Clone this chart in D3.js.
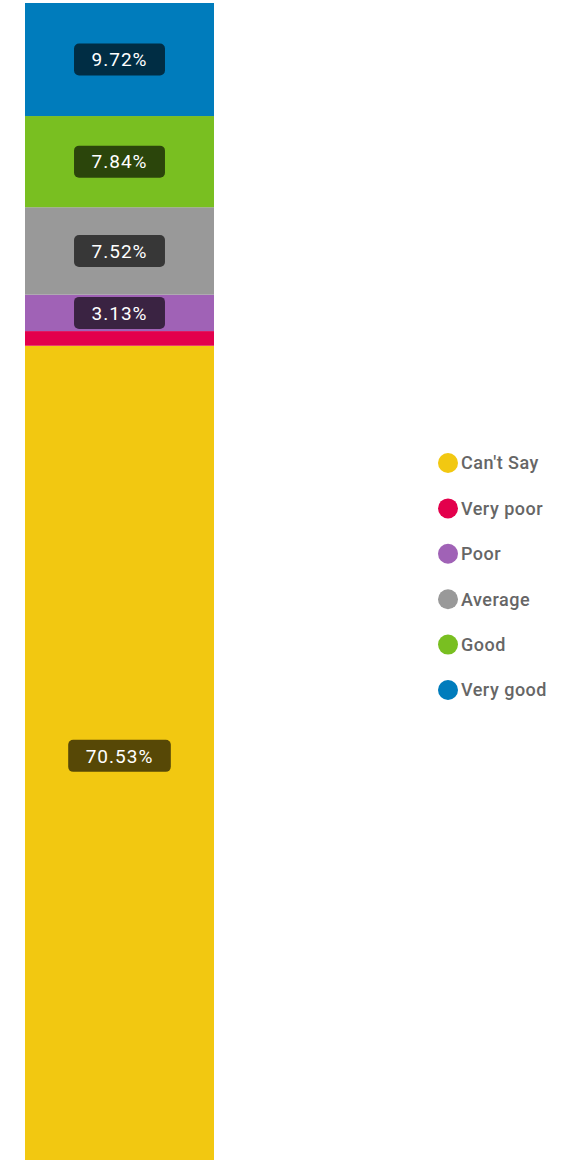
<!DOCTYPE html>
<html>
<head>
<meta charset="utf-8">
<script src="https://cdn.jsdelivr.net/npm/d3@7"></script>
<style>
  body { margin: 0; background: #fff; overflow: hidden; }
  svg { display: block; }
</style>
</head>
<body>
<div id="chart"></div>
<script>
// categories bottom -> top
var categories = ["Can't Say", "Very poor", "Poor", "Average", "Good", "Very good"];
var shares = [70.53, 1.26, 3.13, 7.52, 7.84, 9.72];
var colors = ["#F2C811", "#E3004C", "#A062B6", "#999999", "#79BF21", "#007CBC"];
// legend order top -> bottom
var legendItems = ["Can't Say", "Very poor", "Poor", "Average", "Good", "Very good"];

var W = 568, H = 1160;
// the bar runs a little past the bottom of the window and gets cut off
var bar = { left: 25, right: 214, top: 3, bottom: 1166 };

var svg = d3.select("#chart").append("svg")
  .attr("width", W).attr("height", H);

var color = d3.scaleOrdinal(categories, colors);

// stack the values
var row = {};
categories.forEach(function (c, i) { row[c] = shares[i]; });
var series = d3.stack().keys(categories)([row]);

var y = d3.scaleLinear()
  .domain([0, d3.sum(shares)])
  .range([bar.bottom, bar.top]);

var x = d3.scaleBand().domain(["all"]).range([bar.left, bar.right]).padding(0);

svg.selectAll("rect.seg")
  .data(series)
  .enter()
  .append("rect")
  .attr("class", "seg")
  .attr("x", x("all"))
  .attr("width", x.bandwidth())
  .attr("y", d => y(d[0][1]))
  .attr("height", d => y(d[0][0]) - y(d[0][1]))
  .attr("fill", d => color(d.key));

// data labels (skip the tiny slice)
var labels = svg.selectAll("g.lbl")
  .data(series.filter(d => d[0][1] - d[0][0] > 2))
  .enter()
  .append("g")
  .attr("class", "lbl")
  .attr("transform", d => "translate(" + (x("all") + x.bandwidth() / 2) + "," + ((y(d[0][0]) + y(d[0][1])) / 2) + ")");

labels.each(function (d) {
  var g = d3.select(this);
  var txt = g.append("text")
    .attr("text-anchor", "middle")
    .attr("dy", "0.35em")
    .attr("fill", "#fff")
    .attr("font-family", "Roboto, 'Noto Sans', sans-serif")
    .attr("font-size", 19)
    .attr("letter-spacing", 1)
    .text(row[d.key].toFixed(2) + "%");
  var w = txt.node().getComputedTextLength() + 35;
  g.insert("rect", "text")
    .attr("x", -w / 2).attr("y", -16)
    .attr("width", w).attr("height", 32)
    .attr("rx", 5)
    .attr("fill", "rgba(0,0,0,0.64)");
});

// legend
var ly = d3.scalePoint().domain(legendItems).range([463, 690]);
var leg = svg.selectAll("g.leg")
  .data(legendItems)
  .enter()
  .append("g")
  .attr("class", "leg")
  .attr("transform", d => "translate(448," + ly(d) + ")");

leg.append("circle").attr("r", 10).attr("fill", d => color(d));
leg.append("text")
  .attr("x", 13)
  .attr("dy", "0.35em")
  .attr("fill", "#666")
  .attr("font-family", "Roboto, 'Noto Sans', sans-serif")
  .attr("font-size", 18)
  .attr("font-weight", 500)
  .attr("letter-spacing", 0.5)
  .text(d => d);
</script>
</body>
</html>
